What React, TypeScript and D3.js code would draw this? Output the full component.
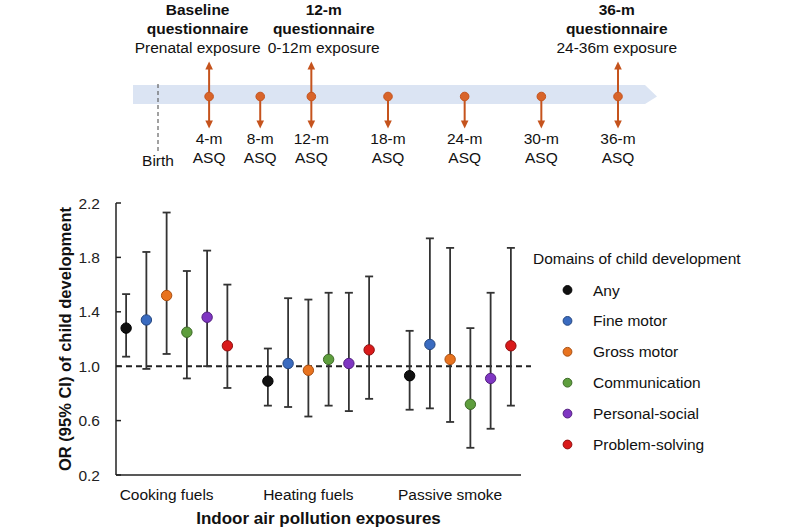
import React from "react";
import * as d3 from "d3";

const exposures = ["Cooking fuels", "Heating fuels", "Passive smoke"];
const domains = ["Any", "Fine motor", "Gross motor", "Communication", "Personal-social", "Problem-solving"];
const domainColors = ["#111111", "#3a6bc0", "#e8731f", "#5e9e3d", "#7f36c2", "#d91a1a"];
const domainStrokes = ["#000000", "#24467f", "#a84f12", "#3d6a27", "#53207f", "#8f0f0f"];

// OR point estimates, rows = exposures, cols = domains
const orValues = [
  [1.28, 1.34, 1.52, 1.25, 1.36, 1.15],
  [0.89, 1.02, 0.97, 1.05, 1.02, 1.12],
  [0.93, 1.16, 1.05, 0.72, 0.91, 1.15],
];
const ciLower = [
  [1.07, 0.98, 1.09, 0.91, 1.0, 0.84],
  [0.71, 0.7, 0.63, 0.71, 0.67, 0.76],
  [0.68, 0.69, 0.59, 0.4, 0.54, 0.71],
];
const ciUpper = [
  [1.53, 1.84, 2.13, 1.7, 1.85, 1.6],
  [1.13, 1.5, 1.49, 1.54, 1.54, 1.66],
  [1.26, 1.94, 1.87, 1.28, 1.54, 1.87],
];
const yTicks = [0.2, 0.6, 1.0, 1.4, 1.8, 2.2];

// timeline
const asqMonths = [4, 8, 12, 18, 24, 30, 36];
const questionnaireMonths = [4, 12, 36];
const questionnaireTitles = [["Baseline", "questionnaire"], ["12-m", "questionnaire"], ["36-m", "questionnaire"]];
const questionnaireSubs = ["Prenatal exposure", "0-12m exposure", "24-36m exposure"];
const questionnaireTextCenters = [3.1, 12.97, 35.9]; // month positions of text blocks

const FONT = "'Liberation Sans', Arial, Helvetica, sans-serif";

export default function App() {
  const W = 800, H = 530;
  // timeline scale (months)
  const t = d3.scaleLinear().domain([0, 36]).range([158, 618]);
  const bandTop = 85, bandBot = 104, bandMid = 96.5;
  const orange = "#c5531d";

  // plot scales
  const x = d3.scaleLinear().domain([-0.5, 19.5]).range([116, 521]);
  const y = d3.scaleLinear().domain([0.2, 2.2]).range([475, 203]);
  const slot = (g: number, s: number) => g * 7 + s;

  const arrowHead = (cx: number, tipY: number, dir: number) => {
    const len = 8, half = 3.8;
    const baseY = tipY - dir * len;
    return `M${cx},${tipY} L${cx - half},${baseY} L${cx + half},${baseY} Z`;
  };

  return (
    <svg width={W} height={H} style={{ display: "block", position: "absolute", left: 0, top: 0 }} fontFamily={FONT}>
      <rect x={0} y={0} width={W} height={H} fill="#ffffff" />
      {/* Timeline band */}
      <path
        d={`M133,${bandTop} L645,${bandTop} L657,${bandMid} L645,${bandBot} L133,${bandBot} Z`}
        fill="#dbe4f3"
      />
      <line x1={t(0)} x2={t(0)} y1={84} y2={153} stroke="#555" strokeWidth={1.1} strokeDasharray="4,3" />
      <text x={t(0)} y={165.5} fontSize={15.5} textAnchor="middle" fill="#111">Birth</text>

      {questionnaireMonths.map((m, i) => (
        <g key={"q" + m}>
          <line x1={t(m)} x2={t(m)} y1={bandMid} y2={68} stroke={orange} strokeWidth={2} />
          <path d={arrowHead(t(m), 61.5, -1)} fill={orange} />
          <text x={t(questionnaireTextCenters[i])} y={14.5} fontSize={15.5} fontWeight="bold" textAnchor="middle" fill="#111">
            {questionnaireTitles[i][0]}
          </text>
          <text x={t(questionnaireTextCenters[i])} y={33.5} fontSize={15.5} fontWeight="bold" textAnchor="middle" fill="#111">
            {questionnaireTitles[i][1]}
          </text>
          <text x={t(questionnaireTextCenters[i])} y={52.5} fontSize={15.5} textAnchor="middle" fill="#111">
            {questionnaireSubs[i]}
          </text>
        </g>
      ))}
      {asqMonths.map((m) => (
        <g key={"a" + m}>
          <line x1={t(m)} x2={t(m)} y1={bandMid} y2={122} stroke={orange} strokeWidth={2} />
          <path d={arrowHead(t(m), 128.5, 1)} fill={orange} />
          <circle cx={t(m)} cy={bandMid} r={4.3} fill="#d8642a" stroke={orange} strokeWidth={1} />
          <text x={t(m)} y={144} fontSize={15.5} textAnchor="middle" fill="#111">{`${m}-m`}</text>
          <text x={t(m)} y={162.5} fontSize={15.5} textAnchor="middle" fill="#111">ASQ</text>
        </g>
      ))}

      {/* Plot axes */}
      <line x1={x(-0.5)} x2={x(-0.5)} y1={y(2.2)} y2={y(0.2)} stroke="#222" strokeWidth={1.5} />
      <line x1={x(-0.5)} x2={x(19.5)} y1={y(0.2)} y2={y(0.2)} stroke="#222" strokeWidth={1.5} />
      {yTicks.map((v) => (
        <g key={"yt" + v}>
          <line x1={x(-0.5)} x2={x(-0.5) + 5} y1={y(v)} y2={y(v)} stroke="#222" strokeWidth={1.5} />
          <text x={100} y={y(v) + 5.5} fontSize={15.5} textAnchor="end" fill="#222">{v.toFixed(1)}</text>
        </g>
      ))}
      <text
        transform={`translate(71,${(y(2.2) + y(0.2)) / 2}) rotate(-90)`}
        fontSize={16.5}
        fontWeight="bold"
        textAnchor="middle"
        fill="#111"
      >
        OR (95% CI) of child development
      </text>
      {exposures.map((e, g) => (
        <text key={e} x={x(slot(g, 2))} y={499.5} fontSize={15.5} textAnchor="middle" fill="#111">{e}</text>
      ))}
      <text x={(x(-0.5) + x(19.5)) / 2} y={524} fontSize={17} fontWeight="bold" textAnchor="middle" fill="#111">
        Indoor air pollution exposures
      </text>

      {/* Reference line */}
      <line x1={x(-0.5)} x2={531} y1={y(1)} y2={y(1)} stroke="#222" strokeWidth={2} strokeDasharray="6,4" />

      {/* Error bars and points */}
      {exposures.map((e, g) =>
        domains.map((d, s) => {
          const cx = x(slot(g, s));
          const yl = y(ciLower[g][s]);
          const yu = y(ciUpper[g][s]);
          return (
            <g key={e + d}>
              <line x1={cx} x2={cx} y1={yu} y2={yl} stroke="#333" strokeWidth={1.8} />
              <line x1={cx - 4} x2={cx + 4} y1={yu} y2={yu} stroke="#333" strokeWidth={1.8} />
              <line x1={cx - 4} x2={cx + 4} y1={yl} y2={yl} stroke="#333" strokeWidth={1.8} />
              <circle cx={cx} cy={y(orValues[g][s])} r={5.2} fill={domainColors[s]} stroke={domainStrokes[s]} strokeWidth={1} />
            </g>
          );
        })
      )}

      {/* Legend */}
      <text x={533} y={263.5} fontSize={15.5} fill="#111">Domains of child development</text>
      {domains.map((d, s) => (
        <g key={"lg" + d}>
          <circle cx={567.5} cy={290 + s * 30.9} r={4.4} fill={domainColors[s]} stroke={domainStrokes[s]} strokeWidth={1} />
          <text x={593} y={290 + s * 30.9 + 5.5} fontSize={15.5} fill="#111">{d}</text>
        </g>
      ))}
    </svg>
  );
}
